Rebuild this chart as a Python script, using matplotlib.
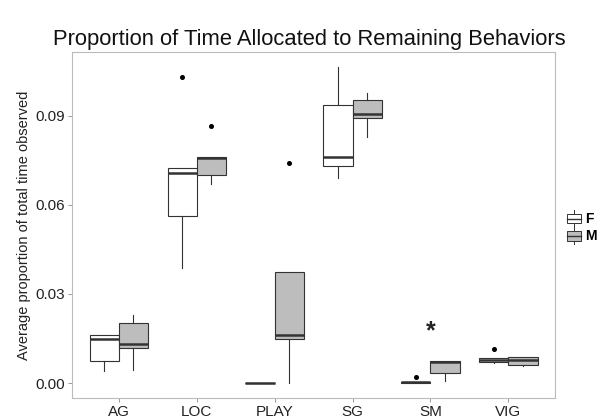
import matplotlib
matplotlib.use("Agg")
import matplotlib.pyplot as plt
from matplotlib.legend_handler import HandlerBase
from matplotlib.patches import Rectangle
from matplotlib.lines import Line2D

plt.rcParams["font.family"] = ["Liberation Sans", "DejaVu Sans"]

behaviors = ["AG", "LOC", "PLAY", "SG", "SM", "VIG"]
sexes = ["F", "M"]

# five-number summaries per behavior: (whislo, q1, med, q3, whishi)
female_stats = [
    (0.0040, 0.0074, 0.0147, 0.0162, 0.0162),
    (0.0388, 0.0562, 0.0706, 0.0723, 0.0723),
    (0.0000, 0.0000, 0.0000, 0.0000, 0.0000),
    (0.0689, 0.0731, 0.0762, 0.0936, 0.1065),
    (0.0000, 0.0000, 0.0002, 0.0004, 0.0004),
    (0.0068, 0.0070, 0.0078, 0.0083, 0.0083),
]
male_stats = [
    (0.0044, 0.0119, 0.0131, 0.0203, 0.0229),
    (0.0670, 0.0700, 0.0757, 0.0762, 0.0762),
    (0.0000, 0.0148, 0.0162, 0.0375, 0.0375),
    (0.0829, 0.0893, 0.0905, 0.0953, 0.0975),
    (0.0007, 0.0035, 0.0072, 0.0074, 0.0074),
    (0.0058, 0.0061, 0.0076, 0.0089, 0.0089),
]
female_outliers = [[], [0.1029], [], [], [0.0019], [0.0114]]
male_outliers = [[], [0.0865], [0.0742], [], [], []]

# significance marker
star_behavior = "SM"
star_value = 0.0173

fills = {"F": "white", "M": "#BDBDBD"}
edge = "#333333"
border = "#BBBBBB"


def to_bxp(stats, outliers):
    out = []
    for (lo, q1, med, q3, hi), fl in zip(stats, outliers):
        out.append(dict(whislo=lo, q1=q1, med=med, q3=q3, whishi=hi, fliers=fl))
    return out


fig = plt.figure(figsize=(6.06, 4.19), dpi=100)
ax = fig.add_axes([0.119, 0.050, 0.797, 0.826])

offset = 0.1875
width = 0.375
for sex, stats, outl, dx in [("F", female_stats, female_outliers, -offset),
                             ("M", male_stats, male_outliers, offset)]:
    pos = [i + 1 + dx for i in range(len(behaviors))]
    ax.bxp(to_bxp(stats, outl), positions=pos, widths=width,
           patch_artist=True, showcaps=False, manage_ticks=False,
           boxprops=dict(facecolor=fills[sex], edgecolor=edge, linewidth=0.8),
           medianprops=dict(color=edge, linewidth=1.8),
           whiskerprops=dict(color=edge, linewidth=0.8),
           flierprops=dict(marker="o", markersize=2.6, markerfacecolor="black",
                           markeredgecolor="black"))

ax.text(behaviors.index(star_behavior) + 1, star_value, "*", ha="center",
        va="center", fontsize=18, fontweight="bold", color="#222222")

ax.set_xlim(0.4, 6.6)
ax.set_ylim(-0.00505, 0.1114)
ax.set_xticks(range(1, len(behaviors) + 1))
ax.set_xticklabels(behaviors)
ax.set_yticks([0.0, 0.03, 0.06, 0.09])
ax.set_yticklabels(["0.00", "0.03", "0.06", "0.09"])
ax.tick_params(axis="both", colors="#888888", labelcolor="#222222",
               labelsize=11, length=3, width=0.6, pad=2)
for sp in ax.spines.values():
    sp.set_color(border)
    sp.set_linewidth(0.8)

ax.set_ylabel("Average proportion of total time observed", fontsize=10.5,
              color="#222222", labelpad=3)
fig.suptitle("Proportion of Time Allocated to Remaining Behaviors",
             x=0.51, y=0.93, fontsize=15.8, color="#111111")


class BoxKeyHandler(HandlerBase):
    def create_artists(self, legend, orig_handle, xdescent, ydescent,
                       width, height, fontsize, trans):
        cx = width / 2 - xdescent
        h = height
        box = Rectangle((-xdescent, -ydescent + h * 0.2), width, h * 0.6,
                        facecolor=orig_handle.get_facecolor(),
                        edgecolor=edge, linewidth=0.7, transform=trans)
        med = Line2D([-xdescent, width - xdescent],
                     [-ydescent + h * 0.5] * 2, color=edge, linewidth=1.0,
                     transform=trans)
        wlo = Line2D([cx, cx], [-ydescent, -ydescent + h * 0.2], color=edge,
                     linewidth=0.7, transform=trans)
        whi = Line2D([cx, cx], [-ydescent + h * 0.8, -ydescent + h], color=edge,
                     linewidth=0.7, transform=trans)
        return [box, med, wlo, whi]


handles = [Rectangle((0, 0), 1, 1, facecolor=fills[s]) for s in sexes]
leg = fig.legend(handles, sexes, loc="center left", bbox_to_anchor=(0.925, 0.458),
                 frameon=False, handler_map={Rectangle: BoxKeyHandler()},
                 handlelength=0.95, handleheight=1.45, handletextpad=0.35,
                 labelspacing=0.05, borderpad=0, prop=dict(size=10, weight="bold"))

fig.savefig("out.png", dpi=100)
